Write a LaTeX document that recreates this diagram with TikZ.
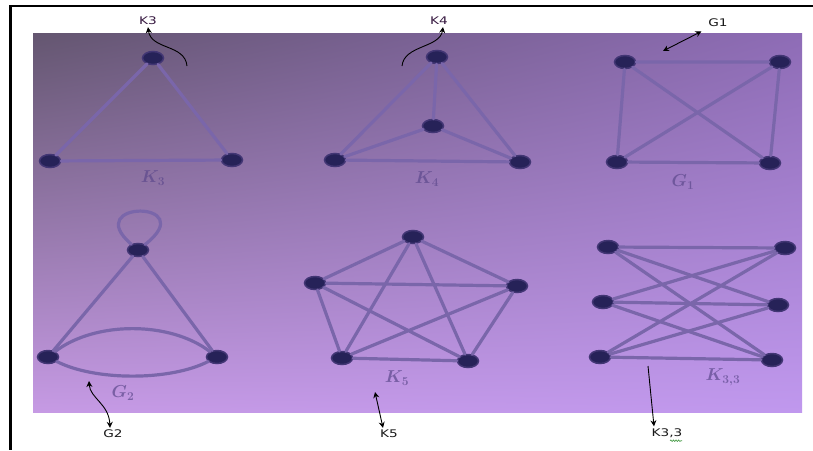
\documentclass[tikz,border=0pt]{standalone}
\usepackage{fontspec}
\newfontfamily\annfont{DejaVu Sans}
\usetikzlibrary{arrows.meta,shapes.geometric,decorations.pathmorphing,shadings}
\definecolor{vtxcol}{RGB}{38,34,88}
\definecolor{vtxrim}{RGB}{66,54,116}
\definecolor{edgecol}{RGB}{122,102,170}
\definecolor{bookcol}{RGB}{92,72,140}
\definecolor{annpurple}{RGB}{55,25,65}
\definecolor{anncol}{RGB}{25,25,25}
\definecolor{bgUL}{RGB}{100,86,112}
\definecolor{bgUR}{RGB}{142,108,182}
\definecolor{bgLL}{RGB}{198,154,228}
\definecolor{bgLR}{RGB}{192,152,238}
\definecolor{squig}{RGB}{60,150,60}
\begin{document}
\begin{tikzpicture}[x=1pt,y=-1pt,
  vtx/.style={ellipse,minimum width=21pt,minimum height=13pt,inner sep=0pt,
              fill=vtxcol,draw=vtxrim,line width=1.5pt},
  edge/.style={draw=edgecol,line width=3.2pt,line cap=round},
  book/.style={text=bookcol,opacity=0.7,font=\fontsize{17}{17}\selectfont\boldmath},
  ann/.style={font=\annfont\fontsize{10.5}{11}\selectfont,text=anncol,inner sep=2pt,xscale=1.3},
  annarrow/.style={draw=black,line width=0.9pt,-{Stealth[length=6pt,width=6pt]}},
  annboth/.style={draw=black,line width=0.9pt,{Stealth[length=6pt,width=6pt]}-{Stealth[length=6pt,width=6pt]}}
]
\useasboundingbox (0,0) rectangle (813,450);
\fill[white] (0,0) rectangle (813,450);
% photo background
\shade[upper left=bgUL,upper right=bgUR,lower left=bgLL,lower right=bgLR] (33,33) rectangle (802,412);
% frame
\draw[line width=2.5pt,line join=miter] (813,6) -- (10.5,6) -- (10.5,450);

% ---------- K3 ----------
\node[vtx] (k3a) at (153,58) {};
\node[vtx] (k3b) at (50,161) {};
\node[vtx] (k3c) at (232,160) {};
\draw[edge] (k3a) -- (k3b) (k3b) -- (k3c) (k3c) -- (k3a);
\node[book] (lk3) at (153,178) {$K_3$};

% ---------- K4 ----------
\node[vtx] (k4a) at (437,57) {};
\node[vtx] (k4m) at (433,126) {};
\node[vtx] (k4b) at (335,160) {};
\node[vtx] (k4c) at (520,162) {};
\draw[edge] (k4a) -- (k4b) (k4b) -- (k4c) (k4c) -- (k4a)
            (k4m) -- (k4a) (k4m) -- (k4b) (k4m) -- (k4c);
\node[book] (lk4) at (427,179) {$K_4$};

% ---------- G1 ----------
\node[vtx] (g1a) at (625,62) {};
\node[vtx] (g1b) at (780,62) {};
\node[vtx] (g1c) at (617,162) {};
\node[vtx] (g1d) at (770,163) {};
\draw[edge] (g1a) -- (g1b) (g1b) -- (g1d) (g1d) -- (g1c) (g1c) -- (g1a)
            (g1a) -- (g1d) (g1b) -- (g1c);
\node[book] (lg1) at (683,182) {$G_1$};

% ---------- G2 ----------
\node[vtx] (g2t) at (138,250) {};
\node[vtx] (g2l) at (48,357) {};
\node[vtx] (g2r) at (217,357) {};
\draw[edge] (g2t) -- (g2l) (g2t) -- (g2r);
\draw[edge] (g2t) .. controls (80,200) and (202,200) .. (g2t);
\draw[edge] (g2l) .. controls (95,321) and (170,321) .. (g2r);
\draw[edge] (g2l) .. controls (95,381) and (170,381) .. (g2r);
\node[book] (lg2) at (123,393) {$G_2$};

% ---------- K5 ----------
\node[vtx] (k5a) at (413,237) {};
\node[vtx] (k5l) at (315,283) {};
\node[vtx] (k5r) at (517,286) {};
\node[vtx] (k5bl) at (342,358) {};
\node[vtx] (k5br) at (468,361) {};
\draw[edge] (k5a) -- (k5l) (k5a) -- (k5r) (k5a) -- (k5bl) (k5a) -- (k5br)
            (k5l) -- (k5r) (k5l) -- (k5bl) (k5l) -- (k5br)
            (k5r) -- (k5bl) (k5r) -- (k5br) (k5bl) -- (k5br);
\node[book] (lk5) at (397,378) {$K_5$};

% ---------- K3,3 ----------
\node[vtx] (l1) at (608,247) {};
\node[vtx] (l2) at (603,302) {};
\node[vtx] (l3) at (600,357) {};
\node[vtx] (r1) at (785,248) {};
\node[vtx] (r2) at (778,305) {};
\node[vtx] (r3) at (772,360) {};
\foreach \a in {l1,l2,l3}{\foreach \b in {r1,r2,r3}{\draw[edge] (\a) -- (\b);}}
\node[book] (lk33) at (723,377) {$K_{3,3}$};

% ---------- annotations ----------
\node[ann,text=annpurple] (tK3) at (148,21) {K3};
\node[ann,text=annpurple] (tK4) at (439,21) {K4};
\node[ann] (tG1) at (718,23) {G1};
\node[ann] (tG2) at (113,434) {G2};
\node[ann] (tK5) at (389,434) {K5};
\node[ann] (tK33) at (667,433) {K3,3};

\coordinate (k3s) at (187,66);
\coordinate (k4s) at (402,66);
\coordinate (g1s) at (663,51);
\coordinate (g2s) at (89,381);
\coordinate (k5s) at (375,392);
\coordinate (k33s) at (648,366);

\draw[annarrow] (k3s) .. controls (185,44) and (151,50) .. (tK3.south);
\draw[annarrow] (k4s) .. controls (404,45) and (440,48) .. ([xshift=4pt]tK4.south);
\draw[annboth,shorten >=5pt] (g1s) -- (tG1);
\draw[annboth] (g2s) .. controls (90,398) and (109,404) .. ([xshift=-3pt]tG2.north);
\draw[annboth] (k5s) -- ([xshift=-6pt]tK5.north);
\draw[annarrow] (k33s) -- ([xshift=-13pt]tK33.north);
\draw[squig,line width=0.6pt,decorate,decoration={snake,amplitude=0.8pt,segment length=2.6pt}]
  ([xshift=3pt,yshift=-1pt]tK33.south) -- ([xshift=15pt,yshift=-1pt]tK33.south);
\end{tikzpicture}
\end{document}
